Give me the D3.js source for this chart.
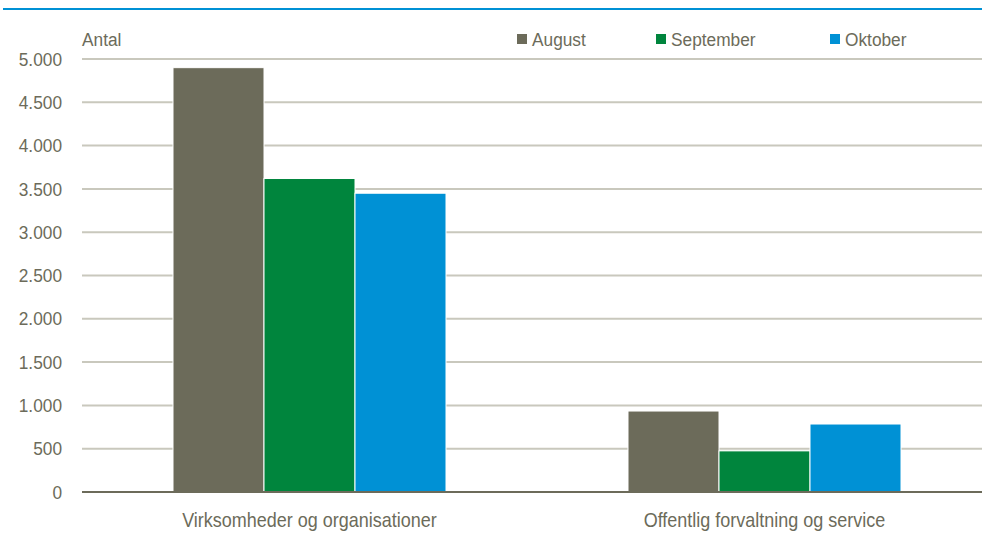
<!DOCTYPE html>
<html>
  <head>
    <meta charset="UTF-8">
    <style>
      body {
        margin: 0;
        background: white;
        font-family: "Liberation Sans", Arial, sans-serif;
      }
      svg {
        display: block;
      }
    </style>
    <script type="text/javascript" src="https://cdn.jsdelivr.net/npm/d3@7"></script>
  </head>
  <body>
    <svg id="Chart"></svg>
    <script type="text/javascript">
      let categories = ['Virksomheder og organisationer', 'Offentlig forvaltning og service'];
      let seriesNames = ['August', 'September', 'Oktober'];
      let august = [4900, 935];
      let september = [3620, 475];
      let oktober = [3450, 785];
      let yTicks = [0, 500, 1000, 1500, 2000, 2500, 3000, 3500, 4000, 4500, 5000];
      let colors = ['#6c6b5a', '#00853d', '#0091d5'];

      let width = 982, height = 539;
      let margin = {top: 59, left: 82, right: 0, bottom: 47};
      let textColor = '#6c6b5a';
      let squeeze = 0.91; // the original font is a condensed one

      let svg = d3.select('#Chart')
        .attr('width', width)
        .attr('height', height);

      // condensed text helper
      function addText(sel, x, y, anchor, size = 19, sx = squeeze) {
        return sel.append('text')
          .attr('transform', (d, i) => `translate(${x(d, i)},${y(d, i)}) scale(${sx},1)`)
          .attr('text-anchor', anchor)
          .attr('fill', textColor)
          .style('font-size', size + 'px');
      }

      // blue line at the top
      svg.append('line')
        .attr('x1', 3).attr('x2', width)
        .attr('y1', 9).attr('y2', 9)
        .attr('stroke', '#0091d5')
        .attr('stroke-width', 2);

      let yScale = d3.scaleLinear()
        .domain([0, 5000])
        .range([height - margin.bottom, margin.top]);

      let xScale = d3.scaleBand()
        .domain(categories)
        .range([margin.left, 992])
        .paddingInner(0.4)
        .paddingOuter(0.2);

      let xSub = d3.scaleBand()
        .domain(seriesNames)
        .range([0, xScale.bandwidth()]);

      // gridlines
      svg.append('g')
        .selectAll('line')
        .data(yTicks.filter(t => t > 0))
        .enter()
        .append('line')
        .attr('x1', margin.left).attr('x2', width)
        .attr('y1', d => yScale(d)).attr('y2', d => yScale(d))
        .attr('stroke', '#c9c8bd')
        .attr('stroke-width', 2);

      // y labels
      let fmt = d => d3.format(',')(d).replace(/,/g, '.');
      let yLabels = svg.append('g')
        .selectAll('g')
        .data(yTicks)
        .enter();
      addText(yLabels, () => 62, d => yScale(d), 'end')
        .attr('dy', '0.35em')
        .text(fmt);

      // bars
      let series = [august, september, oktober];
      let groups = svg.append('g')
        .selectAll('g')
        .data(categories)
        .enter()
        .append('g')
        .attr('transform', d => `translate(${xScale(d)},0)`);

      groups.selectAll('rect')
        .data((d, i) => series.map((s, j) => ({name: seriesNames[j], value: s[i], color: colors[j]})))
        .enter()
        .append('rect')
        .attr('x', d => xSub(d.name))
        .attr('width', xSub.bandwidth())
        .attr('y', d => yScale(d.value))
        .attr('height', d => yScale(0) - yScale(d.value))
        .attr('fill', d => d.color)
        .attr('stroke', 'white')
        .attr('stroke-width', 1);

      // zero axis
      svg.append('line')
        .attr('x1', margin.left).attr('x2', width)
        .attr('y1', yScale(0)).attr('y2', yScale(0))
        .attr('stroke', '#6c6b5a')
        .attr('stroke-width', 2);

      // category labels
      let catLabels = svg.append('g')
        .selectAll('g')
        .data(categories)
        .enter();
      addText(catLabels, d => xScale(d) + xScale.bandwidth() / 2, () => 527, 'middle', 20, 0.9)
        .text(d => d);

      // axis title
      addText(svg, () => 82, () => 46, 'start').text('Antal');

      // legend
      let legendX = [517, 656, 830];
      let legend = svg.append('g')
        .selectAll('g')
        .data(seriesNames)
        .enter()
        .append('g')
        .attr('transform', (d, i) => `translate(${legendX[i]},39)`);

      legend.append('rect')
        .attr('x', 0).attr('y', -5)
        .attr('width', 10).attr('height', 10)
        .attr('fill', (d, i) => colors[i]);

      addText(legend, () => 15, () => 0, 'start')
        .attr('dy', '0.35em')
        .text(d => d);
    </script>
  </body>
</html>
